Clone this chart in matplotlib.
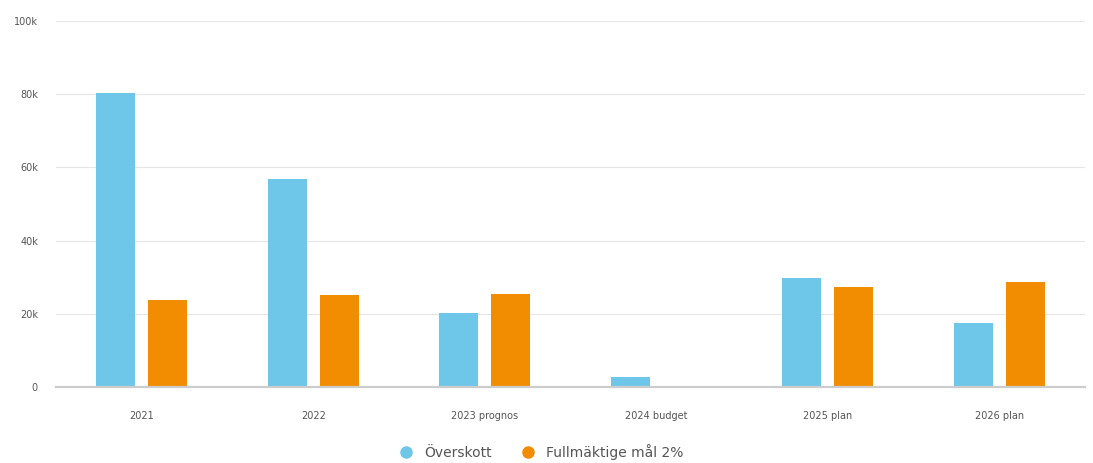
import matplotlib
matplotlib.use("Agg")
import matplotlib.pyplot as plt
import numpy as np

categories = ["2021", "2022", "2023 prognos", "2024 budget", "2025 plan", "2026 plan"]
overskott = [80400, 56700, 20100, 2600, 29900, 17400]
fullmaktige = [23700, 25100, 25300, 0, 27200, 28600]
series_names = ["Överskott", "Fullmäktige mål 2%"]
yticks = [0, 20000, 40000, 60000, 80000, 100000]
ytick_labels = ["0", "20k", "40k", "60k", "80k", "100k"]

blue = "#6ec6e8"
orange = "#f28c00"
text_col = "#555555"

fig = plt.figure(figsize=(10.93, 4.63), dpi=100)
ax = fig.add_axes([56/1093, 1-387/463, (1085-56)/1093, (387-21)/463])

x = np.arange(len(categories))
w = 0.227
off = 0.152
ax.bar(x - off, overskott, width=w, color=blue, label=series_names[0], zorder=3)
ax.bar(x + off, fullmaktige, width=w, color=orange, label=series_names[1], zorder=3)

ax.set_xlim(-0.5, len(categories) - 0.5)
ax.set_ylim(0, 100000)
ax.set_yticks(yticks)
ax.set_yticklabels(ytick_labels)
ax.set_xticks(x)
ax.set_xticklabels(categories)
ax.tick_params(axis="both", length=0, labelsize=7, labelcolor=text_col)
ax.tick_params(axis="x", pad=17)
ax.tick_params(axis="y", pad=13)
ax.grid(axis="y", color="#e6e6e6", linewidth=0.8, zorder=0)
for s in ["top", "right", "left"]:
    ax.spines[s].set_visible(False)
ax.spines["bottom"].set_color("#cccccc")
ax.spines["bottom"].set_linewidth(1.6)
ax.spines["bottom"].set_zorder(4)

handles = [plt.Line2D([0], [0], marker="o", linestyle="", markersize=8,
                      markerfacecolor=c, markeredgecolor=c) for c in (blue, orange)]
leg = fig.legend(handles, series_names, loc="center", bbox_to_anchor=(538/1093, 1-452/463),
                 ncol=2, frameon=False, fontsize=10, handletextpad=0.3, columnspacing=1.6)
for t in leg.get_texts():
    t.set_color(text_col)

fig.savefig("out.png", dpi=100, facecolor="white")
